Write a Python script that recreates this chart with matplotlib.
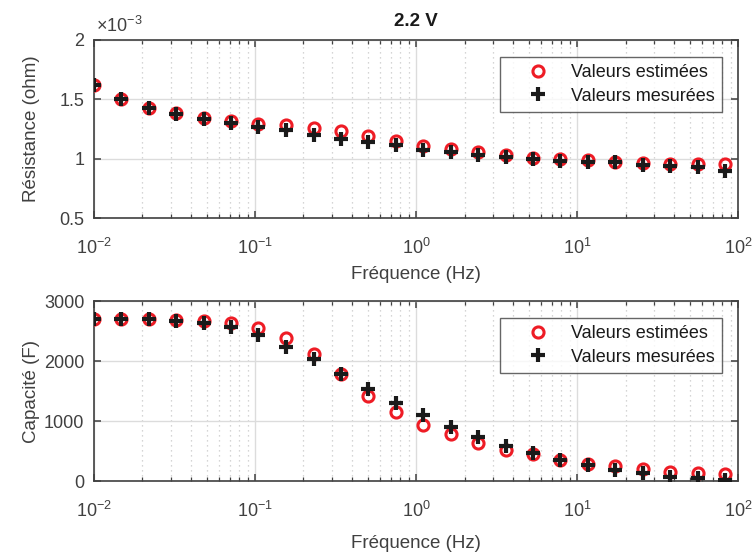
import matplotlib
matplotlib.use('Agg')
import matplotlib.pyplot as plt
from matplotlib.ticker import FuncFormatter, LogLocator, NullFormatter

plt.rcParams['font.family'] = ['Liberation Sans', 'DejaVu Sans']
plt.rcParams['mathtext.fontset'] = 'custom'
plt.rcParams['mathtext.rm'] = 'Liberation Sans'
plt.rcParams['mathtext.it'] = 'Liberation Sans:italic'

# frequencies (Hz)
freq = [0.01, 0.0148, 0.0219, 0.0324, 0.048, 0.071, 0.105, 0.156, 0.231, 0.342,
        0.506, 0.749, 1.11, 1.64, 2.43, 3.6, 5.33, 7.88, 11.7, 17.3, 25.6, 37.9,
        56.1, 83.0]

# resistance (ohm)
r_est = [1.615e-3, 1.505e-3, 1.43e-3, 1.38e-3, 1.34e-3, 1.32e-3, 1.295e-3, 1.28e-3,
         1.255e-3, 1.23e-3, 1.19e-3, 1.15e-3, 1.11e-3, 1.08e-3, 1.06e-3, 1.035e-3,
         1.01e-3, 1.0e-3, 0.99e-3, 0.975e-3, 0.965e-3, 0.96e-3, 0.955e-3, 0.96e-3]
r_mes = [1.615e-3, 1.505e-3, 1.43e-3, 1.375e-3, 1.335e-3, 1.30e-3, 1.27e-3, 1.24e-3,
         1.20e-3, 1.17e-3, 1.14e-3, 1.115e-3, 1.075e-3, 1.055e-3, 1.035e-3, 1.015e-3,
         1.0e-3, 0.98e-3, 0.975e-3, 0.97e-3, 0.945e-3, 0.94e-3, 0.93e-3, 0.90e-3]

# capacitance (F)
c_est = [2715, 2715, 2705, 2697, 2675, 2640, 2550, 2390, 2127, 1787, 1424, 1161,
         938, 787, 648, 531, 452, 363, 296, 251, 201, 156, 139, 117]
c_mes = [2715, 2715, 2700, 2670, 2640, 2575, 2440, 2240, 2045, 1787, 1546, 1301,
         1105, 900, 742, 586, 474, 352, 268, 196, 139, 72, 56, 20]

labels = ['Valeurs estimées', 'Valeurs mesurées']
dark = '#404040'

fig = plt.figure(figsize=(7.56, 5.54), dpi=100)
ax1 = fig.add_axes([0.1243, 0.6056, 0.852, 0.3231])
ax2 = fig.add_axes([0.1243, 0.1309, 0.852, 0.325])


def style(ax, xlab_y):
    ax.set_xscale('log')
    ax.set_xlim(1e-2, 1e2)
    ax.xaxis.set_major_locator(LogLocator(base=10, numticks=10))
    ax.xaxis.set_minor_locator(LogLocator(base=10, subs=range(2, 10), numticks=20))
    ax.xaxis.set_minor_formatter(NullFormatter())
    ax.grid(True, which='major', color='#dcdcdc', lw=1.0, ls='-')
    ax.grid(True, which='minor', axis='x', color='#c8c8c8', lw=0.9, ls=(0, (1, 3)))
    ax.set_axisbelow(True)
    ax.tick_params(which='both', direction='in', top=True, right=True,
                   colors=dark, labelsize=13)
    ax.tick_params(which='major', length=5, width=1.1)
    ax.tick_params(which='minor', length=3, width=0.9)
    ax.tick_params(axis='x', which='major', pad=14)
    ax.tick_params(axis='y', which='major', pad=7)
    for s in ax.spines.values():
        s.set_color(dark)
        s.set_linewidth(1.2)
    ax.set_xlabel('Fréquence (Hz)', fontsize=13.5, color=dark)
    ax.xaxis.set_label_coords(0.5, xlab_y)
    ax.yaxis.set_label_coords(-0.084, 0.5)


def markers(ax, y_est, y_mes, leg_y):
    ax.plot(freq, y_est, 'o', ms=8, mfc='none', mec='#ee1c25', mew=2.2,
            label=labels[0], zorder=3)
    ax.plot(freq, y_mes, '+', ms=10, mec='#1a1a1a', mew=3.0,
            label=labels[1], zorder=4)
    leg = ax.legend(loc='upper right', fontsize=13, frameon=True, fancybox=False,
                    edgecolor=dark, borderpad=0.4, handletextpad=0.15,
                    handlelength=3.4, bbox_to_anchor=(0.975, leg_y),
                    labelspacing=0.35, borderaxespad=0)
    leg.get_frame().set_linewidth(1.0)
    for t in leg.get_texts():
        t.set_color('#1a1a1a')


style(ax1, -0.265)
markers(ax1, r_est, r_mes, 0.902)
ax1.set_ylim(0.5e-3, 2e-3)
ax1.set_yticks([0.5e-3, 1e-3, 1.5e-3, 2e-3])
ax1.yaxis.set_major_formatter(FuncFormatter(lambda v, p: '%g' % round(v * 1e3, 3)))
ax1.text(0.003, 1.02, r'$\times\mathregular{10^{-3}}$', transform=ax1.transAxes,
         fontsize=13, color=dark, ha='left', va='bottom')
ax1.set_ylabel('Résistance (ohm)', fontsize=13.5, color=dark)
ax1.set_title('2.2 V', fontsize=13.5, fontweight='bold', color='#1a1a1a', pad=10)

style(ax2, -0.295)
markers(ax2, c_est, c_mes, 0.908)
ax2.set_ylim(0, 3000)
ax2.set_yticks([0, 1000, 2000, 3000])
ax2.set_ylabel('Capacité (F)', fontsize=13.5, color=dark)

fig.savefig('out.png', dpi=100)
